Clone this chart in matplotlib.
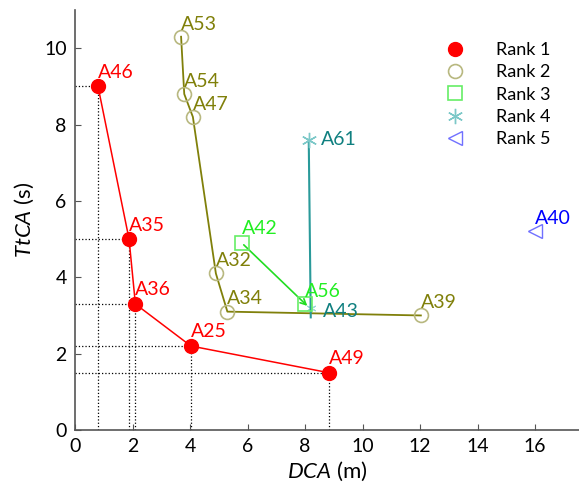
import matplotlib
matplotlib.use('Agg')
import matplotlib.pyplot as plt

plt.rcParams['font.family'] = ['Lato', 'DejaVu Sans']
plt.rcParams['mathtext.fontset'] = 'custom'
plt.rcParams['mathtext.it'] = 'Lato:italic'
plt.rcParams['mathtext.rm'] = 'Lato'

# Rank 1
r1_names = ['A46', 'A35', 'A36', 'A25', 'A49']
r1_x = [0.8, 1.88, 2.1, 4.03, 8.83]
r1_y = [9.0, 5.0, 3.3, 2.2, 1.5]
# Rank 2
r2_names = ['A53', 'A54', 'A47', 'A32', 'A34', 'A39']
r2_x = [3.69, 3.8, 4.1, 4.9, 5.3, 12.03]
r2_y = [10.3, 8.8, 8.2, 4.1, 3.1, 3.0]
# Rank 3
r3_names = ['A42', 'A56']
r3_x = [5.8, 8.0]
r3_y = [4.9, 3.3]
# Rank 4
r4_names = ['A61', 'A43']
r4_x = [8.13, 8.2]
r4_y = [7.6, 3.2]
# Rank 5
r5_names = ['A40']
r5_x = [16.0]
r5_y = [5.2]

fig = plt.figure(figsize=(5.79, 4.90), dpi=100)
ax = fig.add_axes([75 / 579, 60 / 490, 504 / 579, 420 / 490])

# dotted guide lines for rank 1
for x, y in zip(r1_x, r1_y):
    ax.plot([x, x], [0, y], ls=':', color='black', lw=0.9, zorder=1)
    ax.plot([0, x], [y, y], ls=':', color='black', lw=0.9, zorder=1)

ax.plot(r1_x, r1_y, '-', color='red', lw=1.1, zorder=2)
ax.plot(r1_x, r1_y, 'o', color='red', ms=10, ls='none', zorder=3, label='Rank 1')

ax.plot(r2_x, r2_y, '-', color='#80800a', lw=1.3, zorder=2)
ax.plot(r2_x, r2_y, 'o', mfc='none', mec='#b8b880', ms=10, mew=1.2, ls='none',
        zorder=3, label='Rank 2')

ax.annotate('', xy=(r3_x[1] + 0.15, r3_y[1] - 0.1), xytext=(r3_x[0], r3_y[0]),
            arrowprops=dict(arrowstyle='->', color='#22dd22', lw=1.2), zorder=2)
ax.plot(r3_x, r3_y, 's', mfc='none', mec='#66ee66', ms=10, mew=1.2, ls='none',
        zorder=3, label='Rank 3')

ax.plot(r4_x, [r4_y[0], r4_y[1] - 0.25], '-', color='#2a9a9a', lw=1.5, zorder=2)
ax.plot(r4_x[:1], r4_y[:1], marker=(6, 2, 0), color='#7cc8c8', ms=11, mew=1.0,
        ls='none', zorder=3, label='Rank 4')
ax.plot(r4_x[1:], r4_y[1:], marker=(6, 2, 0), color='#9cd8d8', ms=7, mew=0.8,
        ls='none', zorder=1)

ax.plot(r5_x, r5_y, '<', mfc='none', mec='#7070ff', ms=10, mew=1.0, ls='none',
        zorder=3, label='Rank 5')

fs = 14
for n, x, y in zip(r1_names, r1_x, r1_y):
    ax.annotate(n, (x, y), xytext=(0, 4), textcoords='offset points', color='red',
                fontsize=fs, ha='left', va='bottom')
for n, x, y in zip(r2_names, r2_x, r2_y):
    ax.annotate(n, (x, y), xytext=(0, 3), textcoords='offset points', color='#80800a',
                fontsize=fs, ha='left', va='bottom')
r3_off = [(0, 4), (0, 3)]
for n, x, y, o in zip(r3_names, r3_x, r3_y, r3_off):
    ax.annotate(n, (x, y), xytext=o, textcoords='offset points', color='#22ee22',
                fontsize=fs, ha='left', va='bottom')
r4_off = [(9, 0), (9, -3)]
for n, x, y, o in zip(r4_names, r4_x, r4_y, r4_off):
    ax.annotate(n, (x, y), xytext=o, textcoords='offset points', color='#108080',
                fontsize=fs, ha='left', va='center')
for n, x, y in zip(r5_names, r5_x, r5_y):
    ax.annotate(n, (x, y), xytext=(0, 3), textcoords='offset points', color='blue',
                fontsize=fs, ha='left', va='bottom')

ax.set_xlim(0, 17.53)
ax.set_ylim(0, 11.0)
ax.set_xticks(range(0, 17, 2))
ax.set_yticks(range(0, 11, 2))
ax.tick_params(direction='in', labelsize=14, length=4, color='#555555', pad=6)
for s in ['top', 'right']:
    ax.spines[s].set_visible(False)
for s in ['left', 'bottom']:
    ax.spines[s].set_color('#555555')
    ax.spines[s].set_linewidth(1.2)

ax.set_xlabel(r'$DCA$ (m)', fontsize=16, labelpad=3)
ax.set_ylabel(r'$TtCA$ (s)', fontsize=16, labelpad=6)

ax.legend(loc='upper left', bbox_to_anchor=(0.70, 0.945), frameon=False,
          fontsize=13, handletextpad=1.3, labelspacing=0.35, borderpad=0)

fig.savefig('out.png', dpi=100)
